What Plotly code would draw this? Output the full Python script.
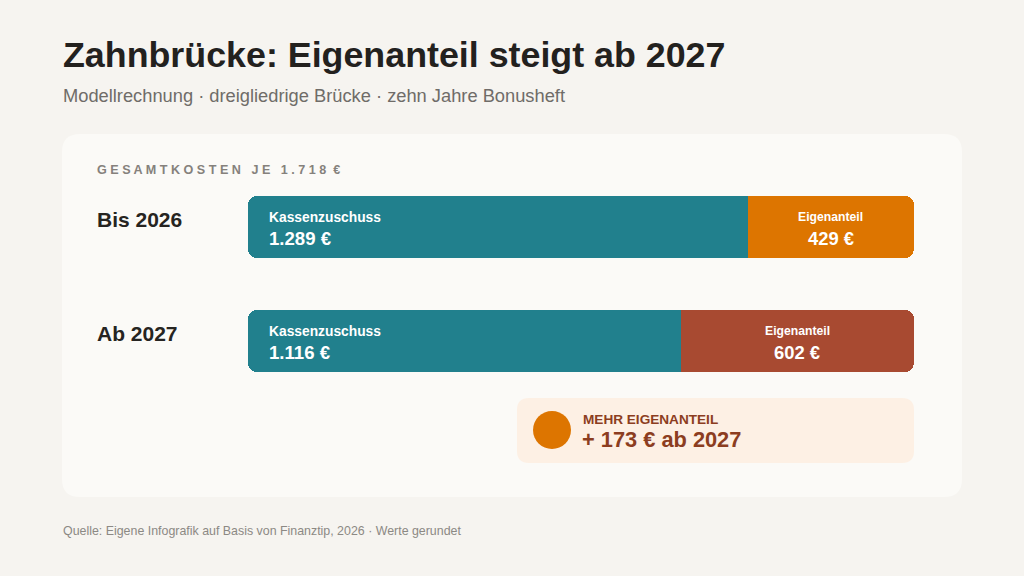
import plotly.graph_objects as go

# Daten (Modellrechnung, gerundet)
zeitraum = ["Bis 2026", "Ab 2027"]
kassenzuschuss = [1289, 1116]
eigenanteil = [429, 602]
gesamtkosten = 1718

W, H = 1024, 576
BG = "#f6f4f0"
CARD = "#fbfaf7"
TEAL = "#21808d"
ORANGE = "#dd7500"
RUST = "#a84a31"
FONT = "Liberation Sans, Arial, sans-serif"


def px_x(x):
    return x / W


def px_y(y):
    return 1 - y / H


def rounded_rect(x0, y0, x1, y1, r):
    # Pfad in Papierkoordinaten, Eingabe in Pixeln
    pts = [
        f"M {px_x(x0 + r)},{px_y(y0)}",
        f"L {px_x(x1 - r)},{px_y(y0)}",
        f"Q {px_x(x1)},{px_y(y0)} {px_x(x1)},{px_y(y0 + r)}",
        f"L {px_x(x1)},{px_y(y1 - r)}",
        f"Q {px_x(x1)},{px_y(y1)} {px_x(x1 - r)},{px_y(y1)}",
        f"L {px_x(x0 + r)},{px_y(y1)}",
        f"Q {px_x(x0)},{px_y(y1)} {px_x(x0)},{px_y(y1 - r)}",
        f"L {px_x(x0)},{px_y(y0 + r)}",
        f"Q {px_x(x0)},{px_y(y0)} {px_x(x0 + r)},{px_y(y0)} Z",
    ]
    return " ".join(pts)


akzent = [ORANGE, RUST]
BAR_W = 0.545

fig = go.Figure()

# Eigenanteil (beginnt verdeckt unter dem Kassenanteil, damit keine Naht entsteht)
start = [k / 2 for k in kassenzuschuss]
fig.add_trace(go.Bar(
    y=zeitraum, x=[k + e - s for k, e, s in zip(kassenzuschuss, eigenanteil, start)], base=start,
    orientation="h", marker=dict(color=akzent, line=dict(width=0), cornerradius=9),
    width=BAR_W, hoverinfo="skip", showlegend=False,
))
# Kassenzuschuss, von der Grenze nach links, damit die linke Kante rund wird
fig.add_trace(go.Bar(
    y=zeitraum, x=[-k for k in kassenzuschuss], base=kassenzuschuss,
    orientation="h", marker=dict(color=TEAL, line=dict(width=0), cornerradius=9),
    width=BAR_W, hoverinfo="skip", showlegend=False,
))
# Kassenzuschuss, rechte Hälfte eckig (Übergang zum Eigenanteil)
fig.add_trace(go.Bar(
    y=zeitraum, x=[k - s for k, s in zip(kassenzuschuss, start)], base=start,
    orientation="h", marker=dict(color=TEAL, line=dict(width=0), cornerradius=0),
    width=BAR_W, hoverinfo="skip", showlegend=False,
))


def fmt(v):
    return f"{v:,}".replace(",", ".") + " €"


ann = []
for i, name in enumerate(zeitraum):
    ann.append(dict(x=px_x(95), y=name, xref="paper", yref="y", yshift=8, text=f"<b>{name}</b>",
                    showarrow=False, xanchor="left", yanchor="middle",
                    font=dict(size=21, color="#262421", family=FONT)))
    ann.append(dict(x=0, y=name, xref="x", yref="y", xshift=19, yshift=10,
                    text="<b>Kassenzuschuss</b>", showarrow=False, xanchor="left",
                    yanchor="middle", font=dict(size=13.8, color="white", family=FONT)))
    ann.append(dict(x=0, y=name, xref="x", yref="y", xshift=19, yshift=-11,
                    text=f"<b>{fmt(kassenzuschuss[i])}</b>", showarrow=False,
                    xanchor="left", yanchor="middle",
                    font=dict(size=18.6, color="white", family=FONT)))
    mitte = kassenzuschuss[i] + eigenanteil[i] / 2
    ann.append(dict(x=mitte, y=name, xref="x", yref="y", yshift=10,
                    text="<b>Eigenanteil</b>", showarrow=False, xanchor="center",
                    yanchor="middle", font=dict(size=12.2, color="white", family=FONT)))
    ann.append(dict(x=mitte, y=name, xref="x", yref="y", yshift=-11,
                    text=f"<b>{fmt(eigenanteil[i])}</b>", showarrow=False,
                    xanchor="center", yanchor="middle",
                    font=dict(size=18.4, color="white", family=FONT)))

differenz = eigenanteil[1] - eigenanteil[0]
BRAUN = "#8c3d20"

kopf = " ".join(list("GESAMTKOSTEN")) + "   " + " ".join(list("JE")) + "   " \
    + " ".join(list(fmt(gesamtkosten).replace(" ", ""))).replace("8 €", "8  €")

ann += [
    dict(x=px_x(61), y=px_y(55), xref="paper", yref="paper",
         text="<b>Zahnbrücke: Eigenanteil steigt ab 2027</b>", showarrow=False,
         xanchor="left", yanchor="middle", font=dict(size=35.8, color="#23211e", family=FONT)),
    dict(x=px_x(61), y=px_y(96), xref="paper", yref="paper",
         text="Modellrechnung · dreigliedrige Brücke · zehn Jahre Bonusheft", showarrow=False,
         xanchor="left", yanchor="middle", font=dict(size=18.3, color="#6f6c68", family=FONT)),
    dict(x=px_x(95), y=px_y(170), xref="paper", yref="paper",
         text="<b>" + kopf + "</b>",
         showarrow=False, xanchor="left", yanchor="middle",
         font=dict(size=12.6, color="#85817c", family=FONT)),
    dict(x=px_x(581), y=px_y(419), xref="paper", yref="paper",
         text="<b>MEHR EIGENANTEIL</b>", showarrow=False, xanchor="left", yanchor="middle",
         font=dict(size=13.6, color=BRAUN, family=FONT)),
    dict(x=px_x(580), y=px_y(439), xref="paper", yref="paper",
         text=f"<b>+ {differenz} € ab 2027</b>", showarrow=False, xanchor="left",
         yanchor="middle", font=dict(size=21.8, color=BRAUN, family=FONT)),
    dict(x=px_x(61), y=px_y(531), xref="paper", yref="paper",
         text="Quelle: Eigene Infografik auf Basis von Finanztip, 2026 · Werte gerundet",
         showarrow=False, xanchor="left", yanchor="middle",
         font=dict(size=12.4, color="#8c8984", family=FONT)),
]

shapes = [
    dict(type="path", xref="paper", yref="paper", path=rounded_rect(62, 134, 962, 497, 18),
         fillcolor=CARD, line=dict(width=0), layer="below"),
    dict(type="path", xref="paper", yref="paper", path=rounded_rect(517, 398, 914, 463, 12),
         fillcolor="#fdf0e4", line=dict(width=0), layer="below"),
    dict(type="circle", xref="paper", yref="paper", x0=px_x(533), x1=px_x(571),
         y0=px_y(449), y1=px_y(411), fillcolor=ORANGE, line=dict(width=0)),
]

fig.update_layout(
    width=W, height=H, margin=dict(l=0, r=0, t=0, b=0),
    paper_bgcolor=BG, plot_bgcolor="rgba(0,0,0,0)",
    barmode="overlay", bargap=0,
    xaxis=dict(domain=[px_x(248), px_x(914)], range=[0, gesamtkosten], visible=False,
               fixedrange=True),
    yaxis=dict(domain=[0, 1], type="category", categoryarray=zeitraum,
               range=[(H - 227) / 114, -227 / 114], visible=False, fixedrange=True),
    annotations=ann, shapes=shapes,
    font=dict(family=FONT),
)

fig.write_html("out.html", config={"displayModeBar": False},
               post_script="document.body.style.margin='0';document.body.style.overflow='hidden';")
